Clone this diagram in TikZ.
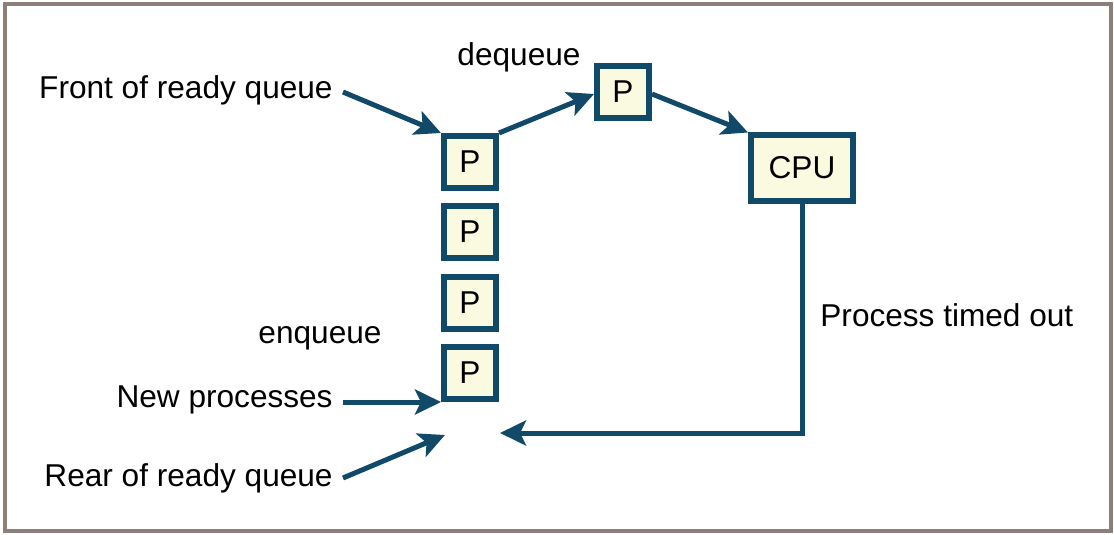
\documentclass[tikz,border=0pt]{standalone}
\usepackage{fontspec}
\setmainfont{Liberation Sans}
\usepackage{xcolor}
\usepackage{tikz}
\usetikzlibrary{positioning}
\usetikzlibrary{arrows.meta}
\usetikzlibrary{calc}

\definecolor{qblue}{RGB}{16,74,104}
\definecolor{qcream}{RGB}{250,250,225}
\definecolor{qframe}{RGB}{140,126,121}

\tikzset{
  pbox/.style={draw=qblue, fill=qcream, line width=3pt, minimum width=26pt, minimum height=26pt, inner sep=0pt},
  cpubox/.style={pbox, minimum width=51pt, minimum height=32.5pt},
  lbl/.style={inner sep=0pt},
  qarrow/.style={draw=qblue, line width=2.5pt, -{Stealth[length=13pt,width=12.5pt,inset=3pt]}}
}

\begin{document}
\begin{tikzpicture}[x=0.5pt,y=-0.5pt,font=\fontsize{15.8}{18}\selectfont]
\useasboundingbox (0,0) rectangle (1114,535);
\draw[qframe, line width=2pt] (5,4) rectangle (1111,531);

% ready queue
\node[pbox] (p1) at (470,162) {P};
\node[pbox] (p2) at (470,232) {P};
\node[pbox] (p3) at (470,303) {P};
\node[pbox] (p4) at (470,373) {P};

\node[pbox] (pd) at (623,92) {P};
\node[cpubox] (cpu) at (802,168) {CPU};

% labels
\node[lbl, anchor=east] (front) at (333,90) {Front of ready queue};
\node[lbl, anchor=east] (newp) at (333,400) {New processes};
\node[lbl, anchor=east] (rear) at (333,478) {Rear of ready queue};
\node[lbl] (deq) at (519,57) {dequeue};
\node[lbl] (enq) at (320,338) {enqueue};
\node[lbl, anchor=west] (tout) at (820,315) {Process timed out};

\coordinate (rearpt) at (445,435);
\coordinate (back) at (500,433);

% arrows
\draw[qarrow] ([xshift=5pt,yshift=-1pt]front.east) -- (p1.north west);
\draw[qarrow] ([xshift=5pt]newp.east |- p4.south west) -- (p4.south west);
\draw[qarrow] ([xshift=5pt]rear.east) -- (rearpt);

\draw[qarrow] (p1.north east) -- ([yshift=-1pt]pd.west);
\draw[qarrow] ([yshift=-1pt]pd.east) -- (cpu.north west);

\draw[qarrow] (cpu.south) |- (back);
\end{tikzpicture}
\end{document}
